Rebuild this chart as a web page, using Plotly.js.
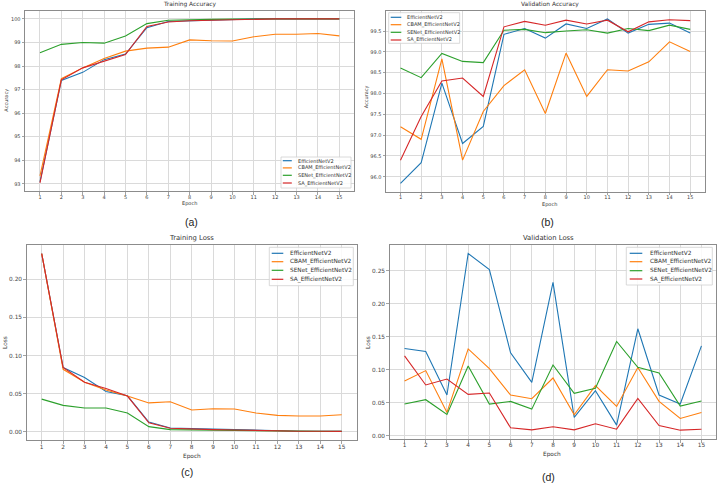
<!DOCTYPE html>
<html>
<head>
<meta charset="utf-8">
<script src="https://cdn.plot.ly/plotly-3.0.1.min.js"></script>
<style>
  html, body { margin: 0; padding: 0; background: #fff; }
  #chart { width: 718px; height: 484px; }
</style>
</head>
<body>
<div id="chart"></div>
<script>
/* four training curves, 2x2 grid, matplotlib look */
const W = 718, H = 484;

const epochs = [1, 2, 3, 4, 5, 6, 7, 8, 9, 10, 11, 12, 13, 14, 15];
const models = ['EfficientNetV2', 'CBAM_EfficientNetV2', 'SENet_EfficientNetV2', 'SA_EfficientNetV2'];
const colors = ['#1f77b4', '#ff7f0e', '#2ca02c', '#d62728'];

// (a) training accuracy
const trainAccBase  = [93.08, 97.39, 97.73, 98.27, 98.51, 99.63, 99.89, 99.92, 99.95, 99.97, 100, 100, 100, 100, 100];
const trainAccCbam  = [93.33, 97.46, 97.92, 98.32, 98.63, 98.76, 98.80, 99.11, 99.07, 99.06, 99.24, 99.35, 99.35, 99.38, 99.28];
const trainAccSenet = [98.56, 98.92, 99.00, 98.97, 99.27, 99.80, 99.94, 99.97, 99.98, 99.99, 100, 100, 100, 100, 100];
const trainAccSa    = [93.04, 97.41, 97.92, 98.20, 98.49, 99.68, 99.87, 99.92, 99.94, 99.97, 100, 100, 100, 100, 100];

// (b) validation accuracy
const valAccBase  = [95.84, 96.34, 98.25, 96.80, 97.21, 99.42, 99.56, 99.33, 99.67, 99.56, 99.79, 99.45, 99.66, 99.69, 99.45];
const valAccCbam  = [97.20, 96.90, 98.83, 96.40, 97.57, 98.19, 98.57, 97.52, 98.97, 97.93, 98.57, 98.54, 98.76, 99.24, 99.01];
const valAccSenet = [98.61, 98.38, 98.96, 98.77, 98.74, 99.52, 99.54, 99.46, 99.50, 99.53, 99.45, 99.56, 99.51, 99.64, 99.54];
const valAccSa    = [96.40, 97.45, 98.30, 98.37, 97.93, 99.60, 99.73, 99.64, 99.76, 99.67, 99.76, 99.48, 99.72, 99.77, 99.75];

// (c) training loss
const trainLossBase  = [0.2335, 0.0843, 0.0713, 0.0530, 0.0474, 0.0130, 0.0052, 0.0045, 0.0032, 0.0025, 0.0020, 0.0012, 0.0010, 0.0009, 0.0008];
const trainLossCbam  = [0.2335, 0.0820, 0.0650, 0.0550, 0.0470, 0.0380, 0.0396, 0.0287, 0.0304, 0.0300, 0.0248, 0.0217, 0.0209, 0.0209, 0.0226];
const trainLossSenet = [0.0430, 0.0348, 0.0313, 0.0313, 0.0248, 0.0070, 0.0030, 0.0026, 0.0020, 0.0018, 0.0015, 0.0010, 0.0009, 0.0008, 0.0007];
const trainLossSa    = [0.2335, 0.0843, 0.0650, 0.0570, 0.0470, 0.0120, 0.0048, 0.0035, 0.0030, 0.0025, 0.0018, 0.0012, 0.0010, 0.0009, 0.0008];

// (d) validation loss
const valLossBase  = [0.1318, 0.1273, 0.0614, 0.2759, 0.2515, 0.1253, 0.0806, 0.2323, 0.0274, 0.0680, 0.0157, 0.1618, 0.0614, 0.0477, 0.1359];
const valLossCbam  = [0.0827, 0.0984, 0.0350, 0.1313, 0.1014, 0.0614, 0.0558, 0.0872, 0.0314, 0.0756, 0.0441, 0.1030, 0.0517, 0.0259, 0.0350];
const valLossSenet = [0.0477, 0.0543, 0.0320, 0.1055, 0.0477, 0.0517, 0.0400, 0.1070, 0.0639, 0.0715, 0.1425, 0.1034, 0.0948, 0.0446, 0.0522];
const valLossSa    = [0.1207, 0.0766, 0.0857, 0.0624, 0.0644, 0.0117, 0.0086, 0.0132, 0.0086, 0.0177, 0.0096, 0.0563, 0.0152, 0.0081, 0.0096];

const FONT = 'DejaVu Sans, sans-serif';
const px = x => x / W;
const py = y => 1 - y / H;

const panels = [
  { series: [trainAccBase, trainAccCbam, trainAccSenet, trainAccSa],
    box: [25, 354.3, 10.7, 191], title: 'Training Accuracy', titleAt: [189.7, 4.8],
    ylabel: 'Accuracy', ylabAt: [6.7, 100], xlabAt: [189.7, 203.3], tag: '(a)', tagAt: [191.7, 222],
    fs: 5, tfs: 5.9, dtick: 1, fmt: 'd',
    legend: { box: [281, 351, 157, 188], rows: [160.7, 167.9, 175.3, 183], line: [282.8, 291.8], text: 295.5 } },
  { series: [valAccBase, valAccCbam, valAccSenet, valAccSa],
    box: [386, 704.7, 10.7, 191.7], title: 'Validation Accuracy', titleAt: [549.8, 4.8],
    ylabel: 'Accuracy', ylabAt: [367.3, 97], xlabAt: [549.5, 204.3], tag: '(b)', tagAt: [547.3, 221.7],
    fs: 5, tfs: 5.9, dtick: 0.5, fmt: '.1f',
    legend: { box: [388.7, 459.7, 12.7, 43.3], rows: [17.3, 24.7, 32.3, 40], line: [390.7, 401.3], text: 404.7 } },
  { series: [trainLossBase, trainLossCbam, trainLossSenet, trainLossSa],
    box: [26.7, 356.7, 244.7, 440.3], title: 'Training Loss', titleAt: [191.8, 237.5],
    ylabel: 'Loss', ylabAt: [4.3, 342.7], xlabAt: [191.7, 456], tag: '(c)', tagAt: [187, 472.3],
    fs: 5.8, tfs: 6.8, dtick: 0.05, fmt: '.2f',
    legend: { box: [269.3, 353.3, 247.3, 285.7], rows: [253.3, 261.7, 270.3, 279.3], line: [271.7, 283.3], text: 288.3 } },
  { series: [valLossBase, valLossCbam, valLossSenet, valLossSa],
    box: [389.7, 716.3, 244.7, 439], title: 'Validation Loss', titleAt: [548.5, 237.5],
    ylabel: 'Loss', ylabAt: [367.3, 342.7], xlabAt: [552, 454], tag: '(d)', tagAt: [548, 476.7],
    fs: 5.8, tfs: 6.8, dtick: 0.05, fmt: '.2f',
    legend: { box: [626.3, 712.3, 247.3, 285], rows: [253.3, 261.7, 270.7, 279], line: [629.7, 642.3], text: 648 } }
];

const traces = [];
const annotations = [];
const shapes = [];
const layout = {
  width: W, height: H,
  margin: { l: 0, r: 0, t: 0, b: 0 },
  paper_bgcolor: '#fff', plot_bgcolor: '#fff',
  showlegend: false,
  font: { family: FONT, color: '#333' }
};

function label(text, x, y, size, angle) {
  annotations.push({
    text: text, xref: 'paper', yref: 'paper', x: px(x), y: py(y),
    xanchor: 'center', yanchor: 'middle', showarrow: false, textangle: angle || 0,
    font: { family: FONT, size: size, color: '#333' }
  });
}

panels.forEach((p, i) => {
  const n = i === 0 ? '' : String(i + 1);
  const all = [].concat(...p.series);
  const lo = Math.min(...all), hi = Math.max(...all), pad = (hi - lo) * 0.05;

  p.series.forEach((ys, k) => {
    traces.push({
      x: epochs, y: ys, type: 'scatter', mode: 'lines', name: models[k],
      xaxis: 'x' + n, yaxis: 'y' + n, hoverinfo: 'skip',
      line: { color: colors[k], width: 1.1 }
    });
  });

  const common = {
    showgrid: true, gridcolor: '#dadada', gridwidth: 1,
    showline: true, mirror: true, linecolor: '#8c8c8c', linewidth: 1,
    ticks: 'outside', ticklen: 2.5, tickwidth: 0.8, tickcolor: '#8c8c8c',
    zeroline: false, fixedrange: true,
    tickfont: { family: FONT, size: p.fs, color: '#444' }
  };
  layout['xaxis' + n] = Object.assign({}, common, {
    domain: [px(p.box[0]), px(p.box[1])], anchor: 'y' + n,
    range: [0.3, 15.7], tickmode: 'array', tickvals: epochs,
    ticklabelstandoff: -2
  });
  layout['yaxis' + n] = Object.assign({}, common, {
    domain: [py(p.box[3]), py(p.box[2])], anchor: 'x' + n,
    range: [lo - pad, hi + pad], dtick: p.dtick, tick0: 0, tickformat: p.fmt
  });

  label(p.title, p.titleAt[0], p.titleAt[1], p.tfs);
  label('Epoch', p.xlabAt[0], p.xlabAt[1], p.fs);
  label(p.ylabel, p.ylabAt[0], p.ylabAt[1], p.fs, -90);
  annotations.push({
    text: p.tag, xref: 'paper', yref: 'paper', x: px(p.tagAt[0]), y: py(p.tagAt[1]),
    xanchor: 'center', yanchor: 'middle', showarrow: false,
    font: { family: 'Liberation Sans, Arial, sans-serif', size: 10.5, color: '#222' }
  });

  // hand-made legend, matplotlib sizes are too small for plotly's own
  const L = p.legend;
  shapes.push({
    type: 'rect', xref: 'paper', yref: 'paper', layer: 'above',
    x0: px(L.box[0]), x1: px(L.box[1]), y0: py(L.box[3]), y1: py(L.box[2]),
    line: { color: '#d0d0d0', width: 0.8 }, fillcolor: 'rgba(255,255,255,0.85)'
  });
  models.forEach((m, k) => {
    shapes.push({
      type: 'line', xref: 'paper', yref: 'paper', layer: 'above',
      x0: px(L.line[0]), x1: px(L.line[1]), y0: py(L.rows[k]), y1: py(L.rows[k]),
      line: { color: colors[k], width: 1.2 }
    });
    annotations.push({
      text: m, xref: 'paper', yref: 'paper', x: px(L.text), y: py(L.rows[k]),
      xanchor: 'left', yanchor: 'middle', showarrow: false,
      font: { family: FONT, size: p.fs, color: '#333' }
    });
  });
});

layout.annotations = annotations;
layout.shapes = shapes;

Plotly.newPlot('chart', traces, layout, { displayModeBar: false, staticPlot: true });
</script>
</body>
</html>
